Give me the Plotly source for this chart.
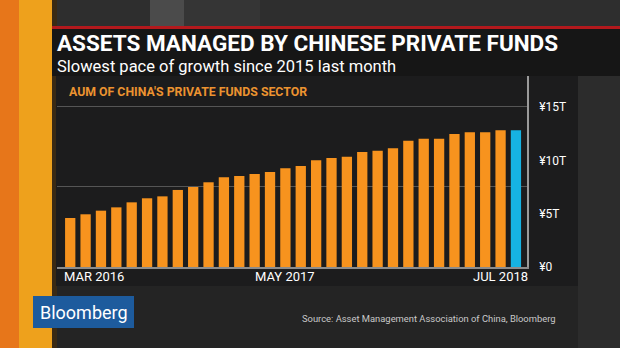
import plotly.graph_objects as go

# Monthly assets under management of China's private funds sector (trillion yuan)
months = [
    "2016-03", "2016-04", "2016-05", "2016-06", "2016-07", "2016-08",
    "2016-09", "2016-10", "2016-11", "2016-12", "2017-01", "2017-02",
    "2017-03", "2017-04", "2017-05", "2017-06", "2017-07", "2017-08",
    "2017-09", "2017-10", "2017-11", "2017-12", "2018-01", "2018-02",
    "2018-03", "2018-04", "2018-05", "2018-06", "2018-07", "2018-08",
]
aum_trillion = [
    4.59, 4.94, 5.28, 5.59, 6.06, 6.44,
    6.62, 7.22, 7.50, 7.94, 8.40, 8.53,
    8.72, 8.90, 9.25, 9.47, 10.00, 10.22,
    10.34, 10.78, 10.90, 11.12, 11.84, 12.03,
    12.03, 12.47, 12.62, 12.62, 12.81, 12.81,
]

# Axis labels
x_tick_months = ["2016-03", "2017-05", "2018-07"]
x_tick_text = ["MAR 2016", "MAY 2017", "JUL 2018"]
y_tick_vals = [0, 5, 10, 15]
y_tick_text = ["¥0", "¥5T", "¥10T", "¥15T"]
grid_vals = [7.5, 15]

TITLE = "ASSETS MANAGED BY CHINESE PRIVATE FUNDS"
SUBTITLE = "Slowest pace of growth since 2015 last month"
CHART_LABEL = "AUM OF CHINA'S PRIVATE FUNDS SECTOR"
SOURCE = "Source: Asset Management Association of China, Bloomberg"

ORANGE = "#f7931e"
BLUE = "#16b3e3"
FONT = "Roboto"

W, H = 620, 348
L, R, T, B = 57, 93, 76, 81
PW, PH = W - L - R, H - T - B


def px(x):
    """Pixel column -> paper x."""
    return (x - L) / PW


def py(y):
    """Pixel row -> paper y."""
    return (H - B - y) / PH


def rect(x0, y0, x1, y1, color):
    return dict(type="rect", xref="paper", yref="paper", layer="below",
                x0=px(x0), x1=px(x1), y0=py(y1), y1=py(y0),
                fillcolor=color, line=dict(width=0))


bar_colors = [ORANGE] * (len(aum_trillion) - 1) + [BLUE]

fig = go.Figure()
fig.add_trace(go.Bar(
    x=months, y=aum_trillion, marker=dict(color=bar_colors, line=dict(width=0)),
    hoverinfo="skip", yaxis="y",
))
# invisible trace that carries the gridline axis
fig.add_trace(go.Scatter(x=[months[0]], y=[0], yaxis="y2", mode="markers",
                         marker=dict(opacity=0), hoverinfo="skip", showlegend=False))

shapes = [
    # backdrop pieces
    rect(0, 0, W, 27, "#2e2e2e"),
    rect(150, 0, 184, 27, "#4b4b4b"),
    rect(184, 0, 260, 27, "#353535"),
    rect(56, 286, W, H, "#242424"),
    rect(578, 76, W, H, "#2c2c2c"),
    # orange side stripe
    rect(0, 0, 19, H, "#e7761a"),
    rect(19, 0, 52, H, "#eea11c"),
    rect(52, 0, 57, H, "#3a2a14"),
    # title box with red rule
    rect(52, 26, W, 29, "#b3191d"),
    rect(52, 29, W, 76, "#161616"),
    # chart panel
    rect(56, 76, 578, 286, "#1c1c1d"),
    # logo block
    rect(33, 296, 134, 328, "#1d5b9d"),
]

annotations = [
    dict(text=f"<b>{TITLE}</b>", x=px(56), y=py(43), xanchor="left", yanchor="middle",
         font=dict(family=FONT, size=22.5, color="white")),
    dict(text=SUBTITLE, x=px(56), y=py(66), xanchor="left", yanchor="middle",
         font=dict(family=FONT, size=16.5, color="white")),
    dict(text=f"<b>{CHART_LABEL}</b>", x=px(68), y=py(92), xanchor="left", yanchor="middle",
         font=dict(family=FONT, size=12.3, color="#ec9330")),
    dict(text=SOURCE, x=px(557), y=py(318), xanchor="right", yanchor="middle",
         font=dict(family=FONT, size=9.4, color="#c9c9c9")),
    dict(text="Bloomberg", x=px(83.5), y=py(312), xanchor="center", yanchor="middle",
         font=dict(family=FONT, size=18, color="white")),
]
for i, (m, t) in enumerate(zip(x_tick_months, x_tick_text)):
    first = i == 0
    annotations.append(dict(
        text=t, x=m, xref="x", y=py(276), yref="paper",
        xanchor="left" if first else "center", xshift=-7 if first else 0,
        yanchor="middle", font=dict(family=FONT, size=13, color="white"),
    ))
for a in annotations:
    a.setdefault("xref", "paper")
    a.setdefault("yref", "paper")
    a["showarrow"] = False
    a["borderpad"] = 0

fig.update_layout(
    width=W, height=H,
    margin=dict(l=L, r=R, t=T, b=B, pad=0),
    paper_bgcolor="#282828", plot_bgcolor="rgba(0,0,0,0)",
    showlegend=False, bargap=0.33,
    shapes=shapes, annotations=annotations,
    xaxis=dict(type="category", range=[-0.86, 29.72], showgrid=False,
               showticklabels=False, ticks="", showline=True,
               linecolor="#8c8c8c", linewidth=2, zeroline=False, fixedrange=True),
    yaxis=dict(range=[0, 17.9], side="right", tickvals=y_tick_vals, ticktext=y_tick_text,
               showgrid=False, zeroline=False, showline=True, linecolor="#9a9a9a",
               linewidth=1.5, ticks="", ticklabelstandoff=8,
               tickfont=dict(family=FONT, size=12, color="white")),
    yaxis2=dict(overlaying="y", matches="y", side="left", tickvals=grid_vals,
                showticklabels=False, showgrid=True, gridcolor="#555555",
                gridwidth=1, zeroline=False, showline=False),
)

fig.write_html("out.html")
